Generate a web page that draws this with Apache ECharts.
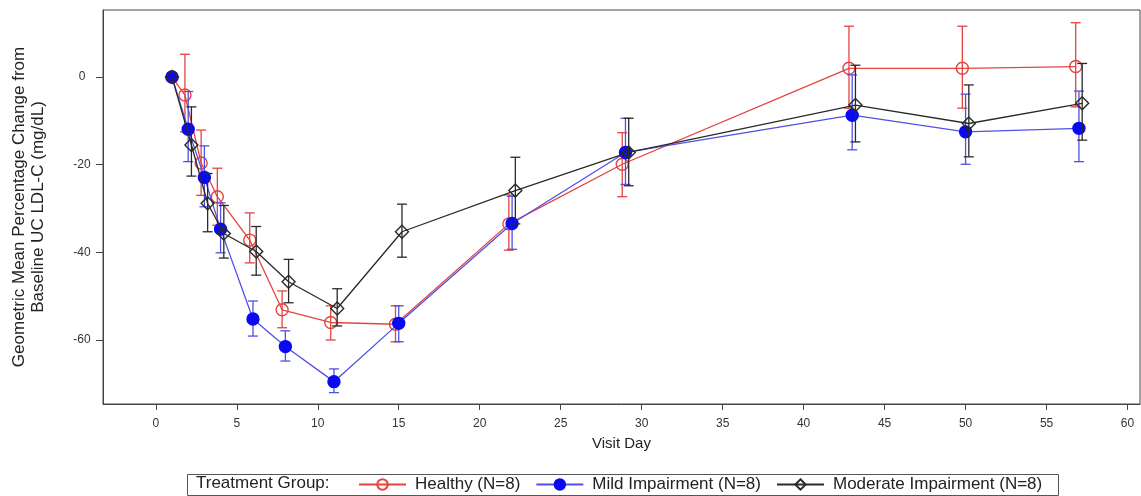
<!DOCTYPE html>
<html><head><meta charset="utf-8">
<script src="https://cdn.jsdelivr.net/npm/echarts@6/dist/echarts.min.js"></script>
<style>html,body{margin:0;padding:0;background:#fff}#c{width:1141px;height:496px}</style>
</head><body><div id="c"></div>
<script>
// ---- data ----
const days = [1, 2, 3, 4, 6, 8, 11, 15, 22, 29, 43, 50, 57];
const xTicks = [0, 5, 10, 15, 20, 25, 30, 35, 40, 45, 50, 55, 60];
const yTicks = [0, -20, -40, -60];

const healthyName = 'Healthy (N=8)';
const healthyMean = [0, -4.1, -19.6, -27.3, -37.2, -53.1, -56.0, -56.4, -33.5, -19.9, 2.0, 2.0, 2.4];
const healthyLow  = [0, -12.5, -27.0, -33.8, -42.4, -57.2, -60.0, -60.4, -39.5, -27.3, -7.1, -7.1, -6.8];
const healthyHigh = [0, 5.2, -12.1, -20.8, -31.0, -48.8, -52.2, -52.2, -26.9, -12.7, 11.6, 11.6, 12.4];

const mildName = 'Mild Impairment (N=8)';
const mildMean = [0, -11.9, -22.9, -34.7, -55.2, -61.5, -69.5, -56.2, -33.4, -17.2, -8.7, -12.5, -11.7];
const mildLow  = [0, -19.3, -29.6, -40.1, -59.1, -64.8, -72.0, -60.4, -39.3, -24.5, -16.6, -19.9, -19.3];
const mildHigh = [0, -3.3, -15.7, -28.7, -51.1, -57.9, -66.6, -52.2, -27.2, -9.4, 0.5, -3.9, -3.2];

const modName = 'Moderate Impairment (N=8)';
const modMean = [0, -15.5, -28.8, -35.7, -39.8, -46.7, -52.8, -35.3, -25.9, -17.2, -6.4, -10.6, -6.0];
const modLow  = [0, -22.6, -35.3, -41.3, -45.2, -51.5, -56.8, -41.1, -33.5, -24.8, -14.8, -18.2, -14.4];
const modHigh = [0, -6.8, -22.0, -29.3, -34.1, -41.6, -48.3, -29.0, -18.3, -9.4, 2.7, -1.8, 3.1];

// ---- styling ----
const RED = '#E2453F', BLUE_M = '#0A0AF0', BLUE_L = '#5050E6', BLACK = '#2A2A2A';
const FONT = 'Liberation Sans';
const offsets = { h: -0.2, m: 0, d: 0.2 };

function lineSeries(name, mean, offset, symbol, size, lineColor, fill, border, z) {
  return {
    name, type: 'line', z,
    data: days.map((d, i) => [d + (i === 0 ? 0 : offset), mean[i]]),
    symbol, symbolSize: size, showAllSymbol: true,
    lineStyle: { color: lineColor, width: 1.3 },
    itemStyle: { color: fill, borderColor: border, borderWidth: 1.4 },
    emphasis: { disabled: true }, animation: false
  };
}
function errSeries(name, low, high, offset, color, z) {
  return {
    name: name + ' CI', type: 'custom', z,
    data: days.map((d, i) => [d + offset, low[i], high[i]]),
    encode: { x: 0, y: [1, 2] },
    renderItem: function (params, api) {
      const x = api.value(0), lo = api.value(1), hi = api.value(2);
      if (lo === hi) return null;
      const a = api.coord([x, lo]), b = api.coord([x, hi]);
      const w = 5;
      const st = { stroke: color, lineWidth: 1.3 };
      return { type: 'group', children: [
        { type: 'line', shape: { x1: a[0], y1: a[1], x2: b[0], y2: b[1] }, style: st },
        { type: 'line', shape: { x1: a[0] - w, y1: a[1], x2: a[0] + w, y2: a[1] }, style: st },
        { type: 'line', shape: { x1: b[0] - w, y1: b[1], x2: b[0] + w, y2: b[1] }, style: st }
      ]};
    },
    animation: false, silent: true
  };
}

const chart = echarts.init(document.getElementById('c'), null, { renderer: 'canvas' });
chart.setOption({
  backgroundColor: '#fff',
  animation: false,
  textStyle: { fontFamily: FONT },
  grid: { left: 103, right: 1, top: 10, bottom: 92, show: true, borderColor: '#444', borderWidth: 1, backgroundColor: 'transparent' },
  xAxis: {
    type: 'value', min: -3.26, max: 60.77,
    name: 'Visit Day', nameLocation: 'middle', nameGap: 32,
    nameTextStyle: { fontSize: 15, color: '#222', fontFamily: FONT },
    axisLine: { show: true, onZero: false, lineStyle: { color: '#444' } },
    axisTick: { show: true, length: 6, customValues: xTicks, lineStyle: { color: '#444' } },
    axisLabel: { customValues: xTicks, margin: 14, fontSize: 12, color: '#333', fontFamily: FONT },
    splitLine: { show: false }
  },
  yAxis: {
    type: 'value', min: -74.6, max: 15.3,
    name: 'Geometric Mean Percentage Change from\nBaseline UC LDL-C (mg/dL)',
    nameLocation: 'middle', nameRotate: 90, nameGap: 55,
    nameTextStyle: { fontSize: 17, color: '#222', lineHeight: 19, fontFamily: FONT },
    axisLine: { show: true, onZero: false, lineStyle: { color: '#444' } },
    axisTick: { show: true, length: 7, customValues: yTicks, lineStyle: { color: '#444' } },
    axisLabel: { customValues: yTicks, margin: 21, align: 'center', fontSize: 12, color: '#333', fontFamily: FONT },
    splitLine: { show: false }
  },
  legend: {
    data: [healthyName, mildName, modName],
    left: 358, top: 476, padding: 0, itemWidth: 47, itemHeight: 13, itemGap: 15,
    textStyle: { fontSize: 17, color: '#222', fontFamily: FONT, padding: [0, 0, 0, 4] }
  },
  graphic: [
    { type: 'rect', left: 185, top: 472, shape: { width: 871, height: 21 }, style: { fill: 'none', stroke: '#555', lineWidth: 1 } },
    { type: 'text', left: 196, top: 475, style: { text: 'Treatment Group:', font: '17px "Liberation Sans"', fill: '#222' } }
  ],
  series: [
    errSeries(healthyName, healthyLow, healthyHigh, offsets.h, RED, 2),
    lineSeries(healthyName, healthyMean, offsets.h, 'circle', 12, RED, 'rgba(0,0,0,0)', RED, 3),
    errSeries(mildName, mildLow, mildHigh, offsets.m, BLUE_L, 4),
    lineSeries(mildName, mildMean, offsets.m, 'circle', 12, BLUE_L, BLUE_M, BLUE_M, 5),
    errSeries(modName, modLow, modHigh, offsets.d, BLACK, 6),
    lineSeries(modName, modMean, offsets.d, 'diamond', 13, BLACK, 'rgba(0,0,0,0)', BLACK, 7)
  ]
});
</script>
</body></html>
